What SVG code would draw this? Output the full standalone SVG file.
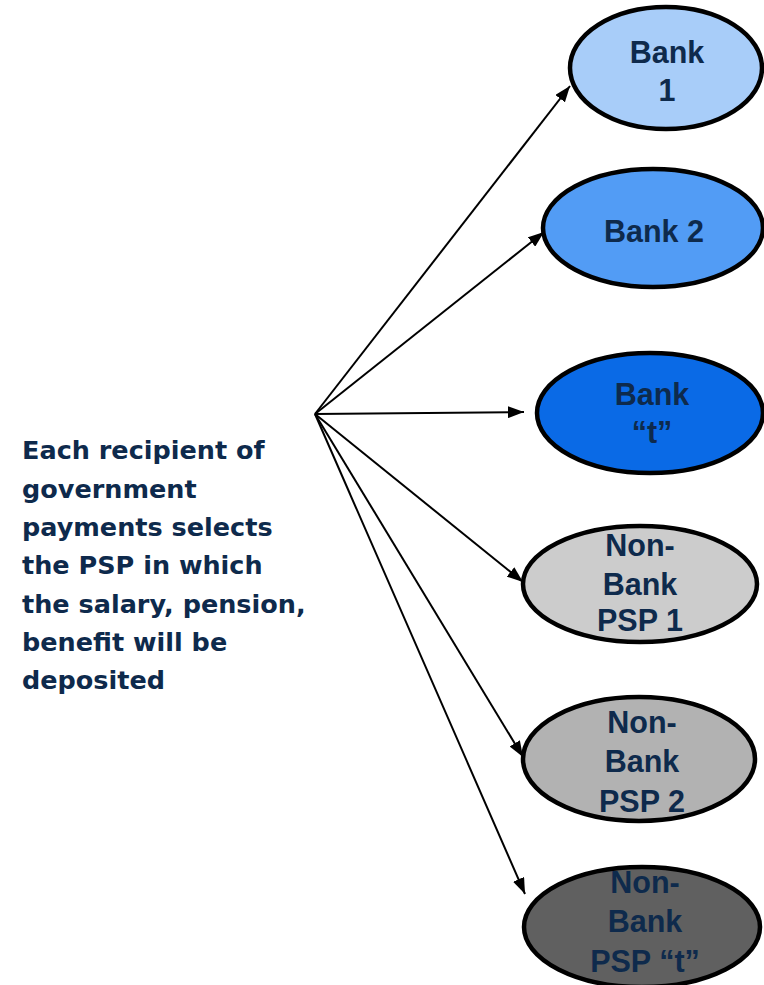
<svg xmlns="http://www.w3.org/2000/svg" width="764" height="985" viewBox="0 0 764 985">
<defs>
<marker id="ah" markerWidth="8" markerHeight="6" refX="8" refY="3" orient="auto" markerUnits="strokeWidth">
<path d="M0,0 L8,3 L0,6 Z" fill="#000"/>
</marker>
<style>
.node ellipse{stroke:#000;stroke-width:4.5}
.lbl{font-family:"Liberation Sans",Arial,sans-serif;font-weight:bold;font-size:30.5px;fill:#0e2a4c;text-anchor:middle}
.desc{font-family:"DejaVu Sans",Verdana,sans-serif;font-weight:bold;font-size:25.5px;fill:#0e2a4c}
.conn line{stroke:#000;stroke-width:2;marker-end:url(#ah)}
</style>
</defs>
<rect width="764" height="985" fill="#fff"/>
<g id="connectors" class="conn">
<line x1="315" y1="414" x2="570" y2="86"/>
<line x1="315" y1="414" x2="544" y2="232"/>
<line x1="315" y1="414" x2="524" y2="412"/>
<line x1="315" y1="414" x2="523" y2="582"/>
<line x1="315" y1="414" x2="523" y2="757"/>
<line x1="315" y1="414" x2="525" y2="894"/>
</g>
<g id="bank1" class="node">
<ellipse cx="666" cy="68" rx="96" ry="61" fill="#a8cdf9"/>
<text class="lbl" x="667" y="63">Bank</text>
<text class="lbl" x="667" y="101">1</text>
</g>
<g id="bank2" class="node">
<ellipse cx="653" cy="228" rx="110" ry="59" fill="#529cf5"/>
<text class="lbl" x="654" y="242">Bank 2</text>
</g>
<g id="bankt" class="node">
<ellipse cx="650" cy="413" rx="113" ry="60" fill="#0a6ae6"/>
<text class="lbl" x="652" y="405">Bank</text>
<text class="lbl" x="652" y="443">“t”</text>
</g>
<g id="nonbank1" class="node">
<ellipse cx="640" cy="584" rx="117" ry="58" fill="#cccccc"/>
<text class="lbl" x="640" y="556">Non-</text>
<text class="lbl" x="640" y="595">Bank</text>
<text class="lbl" x="640" y="631">PSP 1</text>
</g>
<g id="nonbank2" class="node">
<ellipse cx="639" cy="759" rx="116" ry="62" fill="#b2b2b2"/>
<text class="lbl" x="642" y="733">Non-</text>
<text class="lbl" x="642" y="772">Bank</text>
<text class="lbl" x="642" y="812">PSP 2</text>
</g>
<g id="nonbankt" class="node">
<ellipse cx="642" cy="927" rx="118" ry="60" fill="#606060"/>
<text class="lbl" x="645" y="893">Non-</text>
<text class="lbl" x="645" y="932">Bank</text>
<text class="lbl" x="645" y="972">PSP “t”</text>
</g>
<g id="description">
<text class="desc" x="22" y="459">Each recipient of</text>
<text class="desc" x="22" y="498">government</text>
<text class="desc" x="22" y="536">payments selects</text>
<text class="desc" x="22" y="574">the PSP in which</text>
<text class="desc" x="22" y="613">the salary, pension,</text>
<text class="desc" x="22" y="651">benefit will be</text>
<text class="desc" x="22" y="689">deposited</text>
</g>
</svg>
